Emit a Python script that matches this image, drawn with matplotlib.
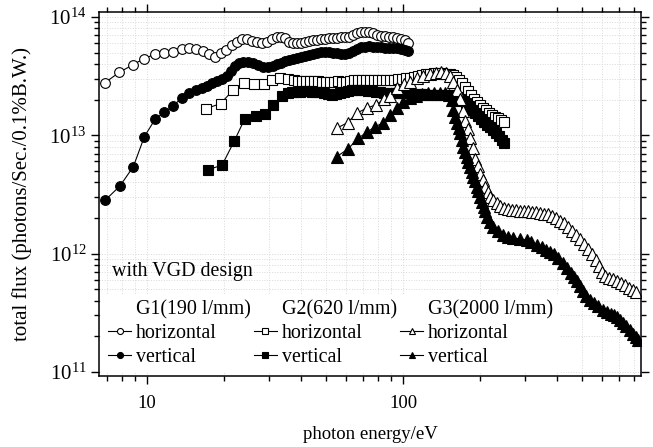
import numpy as np
import matplotlib
matplotlib.use('Agg')
import matplotlib.pyplot as plt
from matplotlib.lines import Line2D
from matplotlib.ticker import LogLocator, NullFormatter, FixedLocator, FixedFormatter

plt.rcParams['font.family'] = ['Liberation Serif', 'DejaVu Serif']
plt.rcParams['mathtext.fontset'] = 'custom'
plt.rcParams['mathtext.rm'] = 'Liberation Serif'
plt.rcParams['mathtext.it'] = 'Liberation Serif:italic'
plt.rcParams['mathtext.bf'] = 'Liberation Serif:bold'

# photon energy (eV) and total flux (units of 1e12 photons/s/0.1%BW)
g1_h_energy = [6.85, 7.80, 8.79, 9.73, 10.75, 11.68, 12.67, 13.66, 14.63, 15.54, 16.50, 17.51,
               18.43, 19.41, 20.35, 21.42, 22.40, 23.43, 24.52, 25.65, 26.82, 28.05, 29.36, 30.70,
               32.20, 33.38, 34.60, 35.87, 37.18, 38.54, 39.96, 41.42, 42.94, 44.51, 46.14, 47.83,
               49.59, 51.40, 53.29, 55.24, 57.26, 59.36, 61.53, 63.79, 66.13, 68.55, 71.06, 73.66,
               76.36, 79.16, 82.06, 85.07, 88.19, 91.42, 94.76, 98.22, 101.8, 104.6]
g1_h_flux = [27.83, 34.07, 39.30, 44.42, 48.37, 49.33, 50.88, 53.65, 55.02, 53.65, 51.28, 48.37,
             46.16, 49.33, 52.60, 57.99, 61.83, 64.78, 64.78, 62.68, 61.11, 59.94, 61.11, 64.78,
             67.09, 68.15, 65.81, 61.48, 59.94, 59.94, 60.53, 61.11, 62.08, 63.31, 64.17, 64.78,
             65.42, 66.07, 66.45, 66.83, 67.09, 67.48, 68.15, 69.75, 72.53, 73.96, 75.11, 74.68,
             72.53, 70.43, 69.35, 68.81, 68.15, 67.48, 66.45, 65.55, 63.91, 60.30]

g1_v_energy = [6.88, 7.84, 8.84, 9.76, 10.75, 11.68, 12.67, 13.66, 14.63, 15.54, 16.36, 17.20,
               17.99, 18.82, 19.69, 20.48, 21.29, 22.07, 22.88, 23.78, 24.87, 26.01, 27.21, 28.46,
               29.77, 31.06,
               32.20, 33.38, 34.60, 35.87, 37.18, 38.54, 39.96, 41.42, 42.94, 44.51, 46.14, 47.83,
               49.59, 51.40, 53.29, 55.24, 57.26, 59.36, 61.53, 63.79, 66.13, 68.55, 71.06, 73.66,
               76.36, 79.16, 82.06, 85.07, 88.19, 91.42, 94.76, 98.22, 101.8, 104.6]
g1_v_flux = [2.84, 3.73, 5.43, 9.73, 13.65, 15.65, 17.79, 20.67, 22.65, 24.15, 25.25, 26.25,
             27.51, 28.77, 29.92, 31.90, 35.17, 38.53, 40.61, 41.89, 41.89, 40.61, 39.30, 38.01,
             37.78, 38.53,
             39.68, 40.85, 42.06, 42.89, 43.73, 44.60, 45.89, 46.79, 47.71, 48.65, 49.61, 50.09,
             50.09, 50.09, 49.61, 49.13, 48.65, 48.65, 49.61, 51.60, 53.65, 55.25, 56.11, 56.33,
             56.11, 55.78, 55.46, 54.91, 54.38, 54.17, 54.38, 53.86, 52.60, 51.10]

g2_h_energy = [17.00, 19.37, 21.71, 23.97, 26.25, 28.57, 30.78, 33.08, 35.65,
               37.5, 38.9, 40.3, 41.8, 43.3, 44.9, 46.6, 48.3, 50.0, 51.9, 53.8, 55.7, 57.8, 59.9,
               62.1, 64.4, 66.7, 69.2, 71.7, 74.3, 77.0, 79.9, 82.8, 85.8, 89.0, 92.2, 95.6, 99.1,
               102.7, 106.5, 110.4, 114.4, 118.6, 123.0, 127.5, 132.1, 137.0, 142.0, 147.2, 152.6,
               156.8, 161.1, 165.5, 170.0, 174.7, 179.5, 184.4, 189.4, 194.6, 200.0, 205.4, 211.1,
               216.8, 222.8, 228.8, 235.1, 241.5, 248.1]
g2_h_flux = [16.79, 18.50, 24.15, 27.51, 26.88, 27.30, 29.16, 30.32, 29.62,
             29.05, 28.77, 28.60, 28.49, 28.49, 28.49, 28.49, 28.38, 28.21, 28.21, 28.38, 28.49,
             28.38, 28.21, 28.49, 29.05, 29.34, 29.34, 29.34, 29.34, 29.16, 29.05, 29.05, 29.05,
             29.16, 29.34, 29.62, 29.92, 30.21, 30.51, 31.10, 31.71, 32.21, 32.65, 32.97, 33.30,
             33.30, 33.30, 32.97, 32.65,
             32.02, 30.81, 29.34, 27.41, 25.36, 23.46, 21.70, 20.27, 19.12, 18.04, 17.02, 16.21,
             15.44, 14.85, 14.34, 13.92, 13.47, 13.03]

g2_v_energy = [17.36, 19.63, 21.90, 24.06, 26.53, 28.90, 31.00, 33.60,
               35.54, 36.85, 38.19, 39.60, 41.05, 42.56, 44.11, 45.73, 47.41, 49.14, 50.93, 52.81,
               54.73, 56.74, 58.82, 60.98, 63.21, 65.53, 67.92, 70.43, 73.00, 75.68, 78.45, 81.33,
               84.31, 87.40, 90.60, 93.91, 97.34, 100.9, 104.6, 108.4, 112.4, 116.5, 120.8, 125.2,
               129.8, 134.6, 139.5, 144.6, 149.9,
               154.0, 158.2, 162.6, 167.0, 171.6, 176.2, 181.0, 186.0, 191.1, 196.3, 201.7, 207.2,
               212.9, 218.7, 224.7, 230.8, 237.1, 243.6, 248.1]
g2_v_flux = [5.12, 5.59, 8.90, 13.74, 14.47, 15.19, 17.86, 21.49,
             22.56, 23.01, 23.23, 23.37, 23.46, 23.46, 23.37, 23.23, 23.01, 22.65, 22.21, 21.91,
             22.12, 22.78, 23.23, 23.55, 23.92, 24.15, 24.15, 24.01, 23.78, 23.46, 23.23, 23.01,
             22.78, 22.65, 22.65, 22.65, 22.65, 22.65, 22.56, 22.43, 22.34, 22.21, 22.12, 21.99,
             21.91, 21.91, 21.78, 21.70, 21.70,
             21.70, 21.28, 20.67, 20.07, 19.31, 18.57, 17.52, 16.37, 15.29, 14.42, 13.60, 12.95,
             12.22, 11.64, 11.09, 10.46, 9.77, 9.04, 8.56]

g3_h_energy = [55.08, 60.70, 66.13, 72.14, 78.08, 84.31, 88.96, 94.76, 100.9, 106.5, 113.1, 119.7,
               127.5, 134.6, 140.8, 147.2, 152.6, 156.8, 161.8, 166.3, 170.8, 174.7, 178.6, 182.7,
               186.8, 191.1, 195.4, 200.0, 204.4, 209.1, 213.8, 218.7, 224.7, 231.9, 239.2, 248.1,
               257.2, 266.6, 276.4, 286.4, 297.0, 307.8, 319.1, 330.8, 342.9, 355.4, 368.5, 381.9,
               396.0, 410.5, 425.6, 441.1, 457.3, 474.1, 491.4, 509.3, 528.1, 547.3, 567.4, 582.9,
               598.8, 615.2, 637.9, 661.3, 685.5, 710.6, 736.6, 763.6, 791.6, 813.3]
g3_h_flux = [11.46, 12.78, 15.44, 16.92, 18.04, 20.07, 21.49, 24.97, 26.88, 28.38, 30.32, 31.41,
             32.65, 33.63, 33.96, 33.30, 31.41, 28.21, 24.15, 20.27, 16.08, 13.21, 11.31, 9.49,
             7.81, 6.30, 5.50, 4.71, 4.19, 3.66, 3.32, 3.01, 2.84, 2.65, 2.53, 2.43,
             2.38, 2.35, 2.32, 2.31, 2.29, 2.28, 2.26, 2.25, 2.22, 2.18, 2.14, 2.08,
             2.00, 1.90, 1.80, 1.68, 1.55, 1.44, 1.32, 1.21, 1.09, 0.983, 0.883, 0.785,
             0.699, 0.647, 0.622, 0.604, 0.587, 0.564, 0.538, 0.512, 0.488, 0.469]

g3_v_energy = [55.08, 60.98, 66.71, 72.14, 77.73, 83.75, 88.96, 94.32, 100.3, 106.5, 112.4, 118.6,
               125.2, 132.1, 139.5, 145.9, 151.2, 154.7, 157.2, 159.7, 162.1, 164.8, 167.0, 169.6,
               172.0, 174.7, 177.4, 179.9, 182.7, 185.5, 188.2, 191.1, 194.1, 196.9, 200.0, 203.6,
               206.3, 209.1, 212.3, 218.7, 225.3, 235.1, 246.5, 257.2, 269.8, 286.4, 304.2, 316.2,
               333.0, 349.1, 361.9, 375.1, 388.9, 403.2, 422.9, 437.2, 453.2, 465.6, 478.3, 491.4,
               504.8, 518.6, 537.6, 557.4, 577.7, 605.8, 626.6, 649.4, 667.3, 685.5, 704.3, 723.6,
               743.3, 770.6, 791.6, 813.3, 830.2]
g3_v_flux = [6.59, 7.66, 9.43, 10.56, 11.82, 12.71, 14.71, 16.92, 18.94, 20.55, 21.49, 22.12,
             22.56, 22.78, 22.78, 22.56, 21.91, 19.88, 16.37, 14.28, 12.63, 11.42, 10.40, 9.13,
             8.01, 7.22, 6.59, 5.95, 5.43, 4.90, 4.47, 4.07, 3.68, 3.35, 3.03, 2.73,
             2.49, 2.27, 2.05, 1.85, 1.69, 1.55, 1.44, 1.38, 1.35, 1.33, 1.30, 1.25,
             1.18, 1.13, 1.08, 1.04, 0.983, 0.918, 0.828, 0.755, 0.685, 0.634, 0.587, 0.532,
             0.483, 0.442, 0.405, 0.379, 0.357, 0.334, 0.321, 0.309, 0.300, 0.291, 0.275, 0.259,
             0.244, 0.226, 0.211, 0.197, 0.186]

group_names = ['G1(190 l/mm)', 'G2(620 l/mm)', 'G3(2000 l/mm)']
pol_names = ['horizontal', 'vertical']
markers = ['o', 's', '^']
marker_sizes = [7.0, 6.5, 8.0]

data = [
    [(g1_h_energy, g1_h_flux), (g1_v_energy, g1_v_flux)],
    [(g2_h_energy, g2_h_flux), (g2_v_energy, g2_v_flux)],
    [(g3_h_energy, g3_h_flux), (g3_v_energy, g3_v_flux)],
]

fig = plt.figure(figsize=(6.53, 4.47), dpi=100)
ax = fig.add_axes([99 / 653, 71 / 447, 542 / 653, 364 / 447])

handles, labels = [], []
for gi, grp in enumerate(data):
    handles.append(Line2D([], [], linestyle='none'))
    labels.append(group_names[gi])
    for pi, (en, fl) in enumerate(grp):
        face = 'white' if pi == 0 else 'black'
        line, = ax.plot(en, np.array(fl) * 1e12, color='black', lw=0.8,
                        marker=markers[gi], ms=marker_sizes[gi], mfc=face, mec='black', mew=0.8)
        handles.append(line)
        labels.append(pol_names[pi])

ax.set_xscale('log')
ax.set_yscale('log')
ax.set_xlim(6.49, 850)
ax.set_ylim(9.23e10, 1.10e14)

ax.xaxis.set_major_locator(FixedLocator([10, 100]))
ax.xaxis.set_major_formatter(FixedFormatter(['10', '100']))
ax.xaxis.set_minor_locator(LogLocator(base=10, subs=np.arange(2, 10)))
ax.xaxis.set_minor_formatter(NullFormatter())
ax.yaxis.set_major_locator(FixedLocator([1e11, 1e12, 1e13, 1e14]))
ax.yaxis.set_major_formatter(FixedFormatter([r'$10^{11}$', r'$10^{12}$', r'$10^{13}$', r'$10^{14}$']))
ax.yaxis.set_minor_locator(LogLocator(base=10, subs=np.arange(2, 10), numticks=20))
ax.yaxis.set_minor_formatter(NullFormatter())

ax.tick_params(which='both', direction='out', top=True, right=True, width=1)
ax.tick_params(which='major', length=6)
ax.tick_params(which='minor', length=3.5)
ax.tick_params(axis='x', labelsize=13.5, pad=8)
ax.tick_params(axis='y', labelsize=15, pad=3)
for sp in ax.spines.values():
    sp.set_linewidth(1.1)

ax.grid(True, which='both', color='0.85', linestyle=':', linewidth=0.7)
ax.set_axisbelow(True)

ax.set_xlabel('photon energy/eV', fontsize=13.5, labelpad=10)
ax.set_ylabel('total flux (photons/Sec./0.1%B.W.)', fontsize=15, labelpad=12)

ax.text(0.024, 0.286, 'with VGD design', transform=ax.transAxes, fontsize=14.4, va='center')
leg = ax.legend(handles, labels, ncol=3, loc='lower left', bbox_to_anchor=(0.0, 0.0),
                fontsize=14.4, frameon=True, fancybox=False, framealpha=1, edgecolor='none',
                facecolor='white', handlelength=1.15, handletextpad=0.25, columnspacing=0.15,
                labelspacing=0.24, borderpad=0.3, borderaxespad=0.15, markerscale=0.62,
                numpoints=1)

fig.savefig('out.png', dpi=100)
